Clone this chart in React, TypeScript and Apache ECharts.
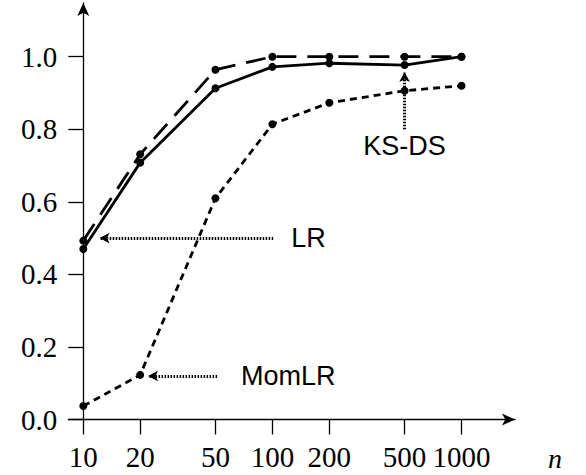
import React, { useEffect, useRef } from 'react';
import * as echarts from 'echarts';

// Sample sizes (x, log scale) and the three curves
const sampleSizes = [10, 20, 50, 100, 200, 500, 1000];
const ksdsSolid = [0.47, 0.708, 0.913, 0.972, 0.982, 0.977, 1.0];
const lrLongDash = [0.493, 0.731, 0.964, 1.0, 1.0, 1.0, 1.0];
const momlrShortDash = [0.037, 0.123, 0.61, 0.814, 0.873, 0.906, 0.92];

// Tick labels
const xTickValues = [10, 20, 50, 100, 200, 500, 1000];
const yTickValues = [0, 0.2, 0.4, 0.6, 0.8, 1.0];

// Annotation arrows
const annotLabels = ['LR', 'MomLR', 'KS-DS'];
const annotFrom = [[101, 0.5], [51, 0.12], [500, 0.8]];
const annotTo = [[12.2, 0.5], [22, 0.12], [500, 0.958]];
const annotDistance = [18, 24, 3];

const lx = (n: number) => Math.log10(n);

export default function App() {
  const ref = useRef<HTMLDivElement>(null);

  useEffect(() => {
    if (!ref.current) return;
    const chart = echarts.init(ref.current, undefined, { renderer: 'svg' });
    const serif = "'Liberation Serif', 'Times New Roman', serif";
    const sans = "'Liberation Sans', Arial, sans-serif";
    const toPts = (vals: number[]) => sampleSizes.map((n, i) => [lx(n), vals[i]]);

    const markData = annotLabels.map((name, i) => [
      {
        coord: [lx(annotFrom[i][0]), annotFrom[i][1]],
        name,
        label: { distance: annotDistance[i] },
      },
      { coord: [lx(annotTo[i][0]), annotTo[i][1]] },
    ]);

    const common = {
      type: 'line',
      symbol: 'circle',
      symbolSize: 8,
      itemStyle: { color: '#000' },
      silent: true,
    };

    chart.setOption({
      animation: false,
      backgroundColor: '#fff',
      textStyle: { fontFamily: serif, color: '#000' },
      grid: {
        left: 68.3,
        right: 71,
        top: 3,
        bottom: 55.5,
        containLabel: false,
        outerBoundsMode: 'none',
      },
      graphic: [
        {
          type: 'text',
          x: 555,
          y: 458,
          silent: true,
          style: {
            text: 'n',
            fill: '#000',
            fontFamily: serif,
            fontStyle: 'italic',
            fontSize: 28,
            lineHeight: 22,
            align: 'center',
            verticalAlign: 'middle',
          },
        },
      ],
      xAxis: {
        type: 'value',
        min: 0.9207,
        max: 3.283,
        axisLine: {
          show: true,
          onZero: false,
          symbol: ['none', 'arrow'],
          symbolSize: [9, 13],
          lineStyle: { color: '#000', width: 1.3 },
        },
        axisTick: {
          show: true,
          customValues: xTickValues.map(lx),
          length: 15,
          inside: false,
          lineStyle: { color: '#000', width: 1.3 },
        },
        axisLabel: {
          show: true,
          customValues: xTickValues.map(lx),
          formatter: (v: number) => String(Math.round(Math.pow(10, v))),
          margin: 23,
          fontFamily: serif,
          fontSize: 29,
          color: '#000',
        },
        splitLine: { show: false },
      },
      yAxis: {
        type: 'value',
        min: 0,
        max: 1.148,
        offset: -15,
        axisLine: {
          show: true,
          onZero: false,
          symbol: ['none', 'arrow'],
          symbolSize: [9, 13],
          lineStyle: { color: '#000', width: 1.3 },
        },
        axisTick: {
          show: true,
          customValues: yTickValues,
          length: 15,
          inside: false,
          lineStyle: { color: '#000', width: 1.3 },
        },
        axisLabel: {
          show: true,
          customValues: yTickValues,
          formatter: (v: number) => v.toFixed(1),
          margin: 26,
          fontFamily: serif,
          fontSize: 29,
          color: '#000',
        },
        splitLine: { show: false },
      },
      series: [
        {
          ...common,
          name: 'KS-DS',
          data: toPts(ksdsSolid),
          lineStyle: { color: '#000', width: 2.8, type: 'solid' },
        },
        {
          ...common,
          name: 'LR',
          data: toPts(lrLongDash),
          lineStyle: { color: '#000', width: 2.8, type: [20, 11] },
        },
        {
          ...common,
          name: 'MomLR',
          data: toPts(momlrShortDash),
          lineStyle: { color: '#000', width: 2.8, type: [7, 5] },
          markLine: {
            silent: true,
            symbol: ['none', 'arrow'],
            symbolSize: [8, 10],
            precision: 4,
            lineStyle: { color: '#000', width: 3, type: [1.5, 1.5] },
            itemStyle: { color: '#000' },
            label: {
              show: true,
              position: 'start',
              formatter: '{b}',
              fontFamily: sans,
              fontSize: 27,
              color: '#000',
            },
            emphasis: { disabled: true },
            data: markData,
          },
        },
      ],
    });

    return () => chart.dispose();
  }, []);

  return (
    <div
      ref={ref}
      style={{ position: 'fixed', left: 0, top: 0, width: 586, height: 475, background: '#fff' }}
    />
  );
}
